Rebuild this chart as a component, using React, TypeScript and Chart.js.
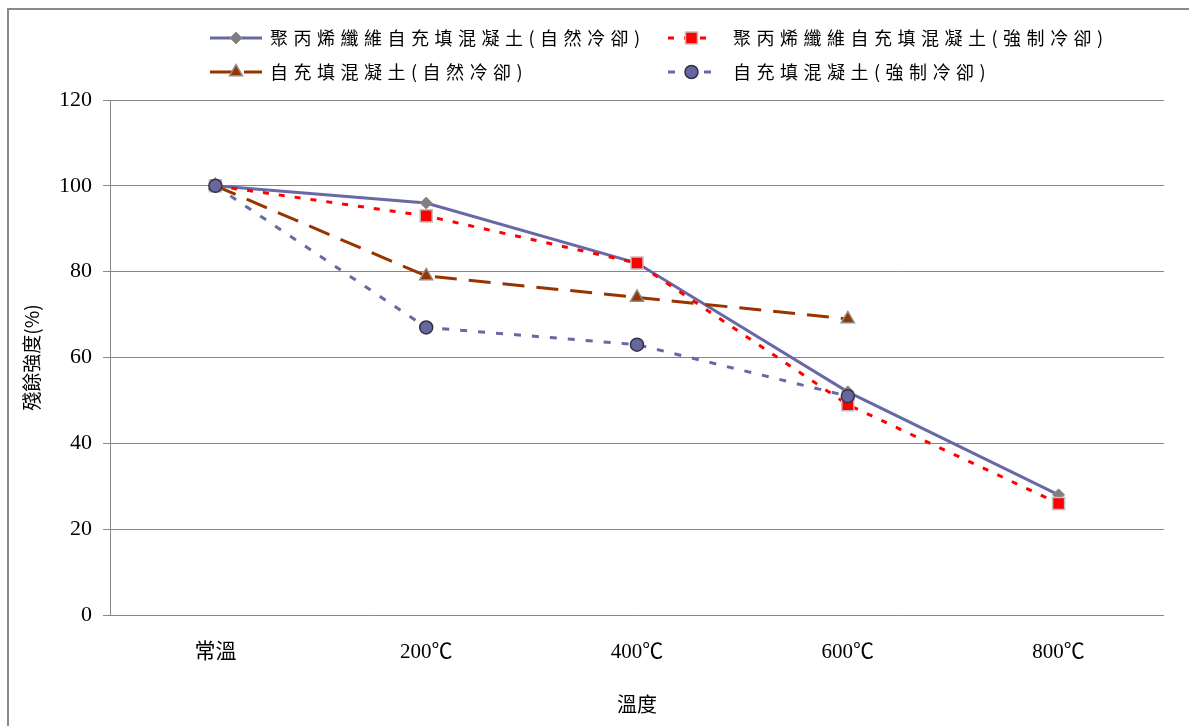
import React, { useEffect, useRef } from 'react';
import { Chart, registerables } from 'chart.js';

Chart.register(...registerables);

const categories = ['常溫', '200℃', '400℃', '600℃', '800℃'];
const seriesNames = [
  '聚丙烯纖維自充填混凝土(自然冷卻)',
  '聚丙烯纖維自充填混凝土(強制冷卻)',
  '自充填混凝土(自然冷卻)',
  '自充填混凝土(強制冷卻)',
];
const pfNatural = [100, 96, 82, 52, 28];
const pfForced = [100, 93, 82, 49, 26];
const scNatural = [100, 79, 74, 69, null];
const scForced = [100, 67, 63, 51, null];
const yMin = 0;
const yMax = 120;
const yStep = 20;
const xTitle = '溫度';
const yTitle = '殘餘強度(%)';

const LATIN = "'Liberation Serif', 'Noto Sans CJK TC', serif";
const CJK = "'Noto Sans CJK TC', 'Liberation Serif', serif";

function drawMarker(ctx: CanvasRenderingContext2D, style: string, x: number, y: number, r: number, fill: string, stroke: string, bw: number) {
  ctx.save();
  ctx.setLineDash([]);
  ctx.fillStyle = fill;
  ctx.strokeStyle = stroke;
  ctx.lineWidth = bw;
  ctx.beginPath();
  if (style === 'rectRot') {
    ctx.moveTo(x, y - r);
    ctx.lineTo(x + r, y);
    ctx.lineTo(x, y + r);
    ctx.lineTo(x - r, y);
    ctx.closePath();
  } else if (style === 'rect') {
    const s = r / Math.SQRT2;
    ctx.rect(x - s, y - s, 2 * s, 2 * s);
  } else if (style === 'triangle') {
    const half = r * Math.sqrt(3) / 2;
    ctx.moveTo(x, y - r);
    ctx.lineTo(x + half, y + r / 2);
    ctx.lineTo(x - half, y + r / 2);
    ctx.closePath();
  } else {
    ctx.arc(x, y, r, 0, Math.PI * 2);
  }
  ctx.fill();
  if (bw > 0) ctx.stroke();
  ctx.restore();
}

const legendPlugin = {
  id: 'customLegend',
  afterDraw(chart: any) {
    const ctx: CanvasRenderingContext2D = chart.ctx;
    const cols = [201, 659];
    const rows = [28, 62];
    chart.data.datasets.forEach((ds: any, i: number) => {
      const cx = cols[i % 2];
      const cy = rows[Math.floor(i / 2)];
      const lineLen = i % 2 === 0 ? 52 : 47;
      ctx.save();
      ctx.strokeStyle = ds.borderColor;
      ctx.lineWidth = ds.borderWidth;
      ctx.setLineDash(ds.borderDash || []);
      ctx.beginPath();
      ctx.moveTo(cx, cy);
      ctx.lineTo(cx + lineLen, cy);
      ctx.stroke();
      ctx.restore();
      drawMarker(ctx, ds.pointStyle, cx + lineLen / 2, cy, ds.pointRadius, ds.pointBackgroundColor, ds.pointBorderColor, ds.pointBorderWidth);
      ctx.save();
      ctx.fillStyle = '#000';
      ctx.font = `18px ${CJK}`;
      (ctx as any).letterSpacing = '5.5px';
      ctx.textBaseline = 'middle';
      ctx.textAlign = 'left';
      ctx.fillText(seriesNames[i], i % 2 === 0 ? 261 : 724, cy);
      ctx.restore();
    });
  },
};

export default function App() {
  const ref = useRef<HTMLCanvasElement>(null);
  useEffect(() => {
    if (!ref.current) return;
    const chart = new Chart(ref.current, {
      type: 'line',
      data: {
        labels: categories,
        datasets: [
          {
            label: seriesNames[0],
            data: pfNatural,
            borderColor: '#6868A6',
            borderWidth: 3,
            borderDash: [],
            pointStyle: 'rectRot',
            pointRadius: 6,
            pointBackgroundColor: '#7F7F7F',
            pointBorderColor: '#909090',
            pointBorderWidth: 1,
            order: 3,
          },
          {
            label: seriesNames[1],
            data: pfForced,
            borderColor: '#FF0000',
            borderWidth: 3,
            borderDash: [6, 10],
            pointStyle: 'rect',
            pointRadius: 8.5,
            pointBackgroundColor: '#FF0000',
            pointBorderColor: '#C0C0C0',
            pointBorderWidth: 1.5,
            order: 2,
          },
          {
            label: seriesNames[2],
            data: scNatural,
            borderColor: '#993300',
            borderWidth: 3,
            borderDash: [22, 12],
            pointStyle: 'triangle',
            pointRadius: 7.5,
            pointBackgroundColor: '#993300',
            pointBorderColor: '#8C8C8C',
            pointBorderWidth: 1.5,
            order: 1,
          },
          {
            label: seriesNames[3],
            data: scForced,
            borderColor: '#6868A6',
            borderWidth: 3,
            borderDash: [7, 11],
            pointStyle: 'circle',
            pointRadius: 6.5,
            pointBackgroundColor: '#6666A0',
            pointBorderColor: '#333340',
            pointBorderWidth: 1.5,
            order: 0,
          },
        ] as any,
      },
      options: {
        responsive: false,
        animation: false,
        layout: { padding: { top: 90, right: 18, left: 0, bottom: 0 } },
        plugins: {
          legend: { display: false },
          tooltip: { enabled: false },
        },
        scales: {
          x: {
            type: 'category',
            offset: true,
            grid: { display: false, drawTicks: false },
            border: { display: false },
            ticks: { color: '#000', font: { family: LATIN, size: 21 }, padding: 25 },
            title: { display: true, text: xTitle, color: '#000', font: { family: CJK, size: 20 }, padding: { top: 0, bottom: 0 } },
            afterFit: (s: any) => { s.height = 101; },
          },
          y: {
            min: yMin,
            max: yMax,
            ticks: { stepSize: yStep, color: '#000', font: { family: LATIN, size: 22 }, padding: 11 },
            grid: { color: '#878787', lineWidth: 1, tickLength: 7, drawTicks: true },
            border: { display: true, color: '#878787', width: 1 },
            title: { display: true, text: yTitle, color: '#000', font: { family: CJK, size: 19 }, padding: { top: 11, bottom: 0 } },
            afterFit: (s: any) => { s.width = 101; },
          },
        },
      } as any,
      plugins: [legendPlugin],
    });
    return () => chart.destroy();
  }, []);
  return (
    <div style={{ position: 'fixed', left: 7, top: 8, borderLeft: '2px solid #8a8a8a', borderTop: '2px solid #8a8a8a', width: 1220, height: 730, background: '#fff' }}>
      <canvas ref={ref} width={1173} height={706} style={{ display: 'block', width: 1173, height: 706 }} />
    </div>
  );
}
